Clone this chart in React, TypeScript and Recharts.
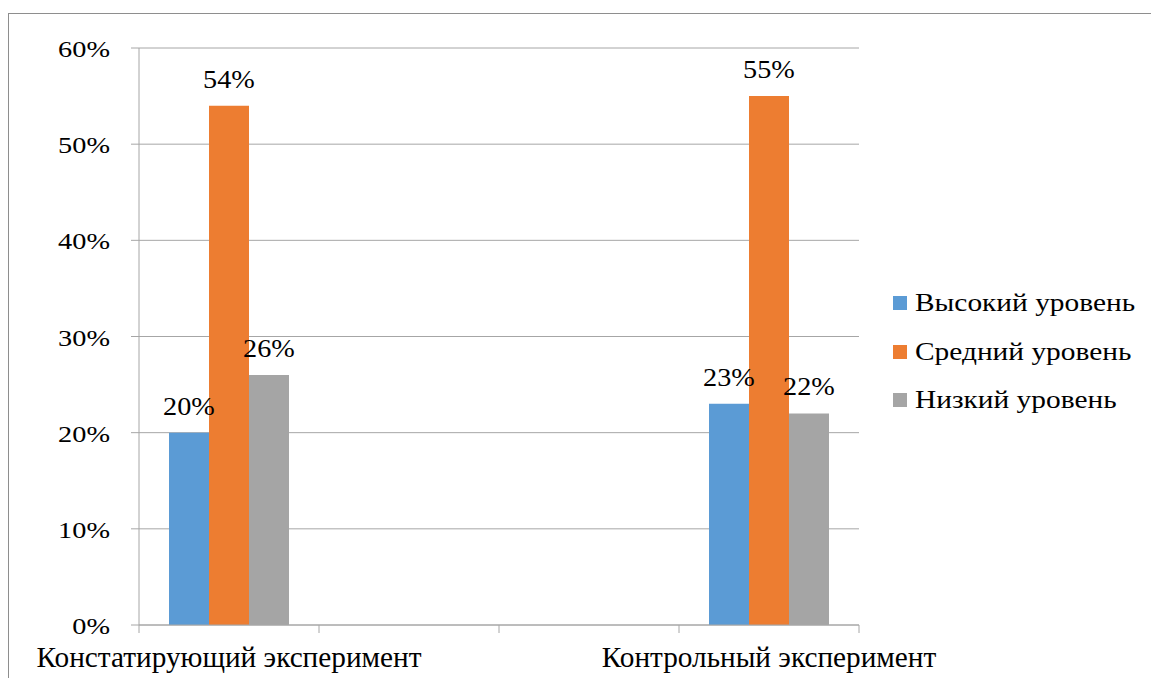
import React from 'react';
import { BarChart, Bar, XAxis, YAxis, CartesianGrid, Legend, LabelList } from 'recharts';

const categories = ['Констатирующий эксперимент', '', ' ', 'Контрольный эксперимент'];
const highLevel = [20, null, null, 23];
const midLevel = [54, null, null, 55];
const lowLevel = [26, null, null, 22];
const yTicks = [0, 10, 20, 30, 40, 50, 60];
const boundTicks = [0, 1, 2, 3, 4];

const series = [
  { key: 'high', name: 'Высокий уровень', color: '#5B9BD5' },
  { key: 'mid', name: 'Средний уровень', color: '#ED7D31' },
  { key: 'low', name: 'Низкий уровень', color: '#A5A5A5' },
];

const data = categories.map((c, i) => ({
  name: c,
  high: highLevel[i],
  mid: midLevel[i],
  low: lowLevel[i],
}));

const FONT = '"Liberation Serif", "Times New Roman", serif';
const GRID = '#a6a6a6';
const txt = { fontFamily: FONT, fill: '#000' };

const pct = (v: any) => (v == null ? '' : `${v}%`);

// the source picture is a little wider than tall, so some text is stretched sideways
function YTick({ x, y, payload }: any) {
  return (
    <text transform={`translate(${x},${y + 9}) scale(1.18,1)`} textAnchor="end" fontSize={24} style={txt}>
      {`${payload.value}%`}
    </text>
  );
}

function XTick({ x, y, payload }: any) {
  return (
    <text transform={`translate(${x},${y}) scale(1.01,1)`} textAnchor="middle" fontSize={29} style={txt}>
      {payload.value}
    </text>
  );
}

function BarLabel({ x, y, width, value }: any) {
  if (value == null) return null;
  return (
    <text transform={`translate(${x + width / 2},${y - 18}) scale(1.13,1)`} textAnchor="middle" fontSize={25} style={txt}>
      {pct(value)}
    </text>
  );
}

function LegendBox() {
  return (
    <div style={{ fontFamily: FONT, fontSize: 26, color: '#000' }}>
      {series.map((s) => (
        <div key={s.key} style={{ height: 48.5, display: 'flex', alignItems: 'center' }}>
          <span style={{ width: 14, height: 14, background: s.color, marginRight: 8, display: 'inline-block' }} />
          <span style={{ display: 'inline-block', transform: 'scaleX(1.13)', transformOrigin: 'left center' }}>{s.name}</span>
        </div>
      ))}
    </div>
  );
}

export default function App() {
  return (
    <div
      style={{
        position: 'fixed',
        left: 8,
        top: 13,
        width: 1143,
        height: 665,
        borderTop: '1px solid #8e8e8e',
        borderLeft: '1px solid #8e8e8e',
        overflow: 'hidden',
        background: '#fff',
        fontFamily: FONT,
      }}
    >
      <style>{`.recharts-wrapper, .recharts-wrapper * { font-family: "Liberation Serif", "Times New Roman", serif !important; }`}</style>
      <BarChart
        width={1142}
        height={664}
        data={data}
        margin={{ top: 34, right: 34, bottom: 0, left: 0 }}
        barCategoryGap={30}
        barGap={0}
      >
        <CartesianGrid vertical={false} stroke={GRID} />
        <XAxis
          xAxisId="bound"
          type="number"
          dataKey={() => 0}
          domain={[0, 4]}
          ticks={boundTicks}
          allowDataOverflow
          height={9}
          tickSize={8}
          stroke={GRID}
          tickLine={{ stroke: GRID }}
          tick={{ fontSize: 1, fill: 'none' }}
          tickFormatter={() => ' '}
        />
        <XAxis
          xAxisId="cat"
          dataKey="name"
          height={44}
          axisLine={false}
          tickLine={false}
          tickSize={0}
          tickMargin={33}
          interval={0}
          tick={<XTick />}
        />
        <YAxis
          domain={[0, 60]}
          ticks={yTicks}
          width={130}
          tickSize={8}
          tickMargin={21}
          stroke={GRID}
          tick={<YTick />}
        />
        <Legend
          layout="vertical"
          align="right"
          verticalAlign="middle"
          content={() => <LegendBox />}
          wrapperStyle={{ width: 258, right: 0, top: 265 }}
        />
        {series.map((s) => (
          <Bar key={s.key} xAxisId="cat" dataKey={s.key} name={s.name} fill={s.color} isAnimationActive={false}>
            <LabelList dataKey={s.key} content={<BarLabel />} />
          </Bar>
        ))}
      </BarChart>
    </div>
  );
}
